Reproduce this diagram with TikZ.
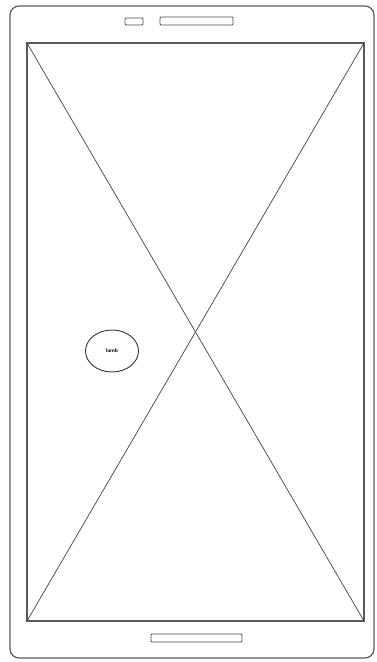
\documentclass[tikz,border=0pt]{standalone}
\usetikzlibrary{shapes.geometric}
\begin{document}
\begin{tikzpicture}[x=1pt,y=-1pt,
  frame/.style={draw=black!65,line width=1.2pt},
  thin/.style={draw=black!75,line width=0.7pt},
  bar/.style={draw=black!70,line width=0.9pt,rounded corners=1pt},
  bubble/.style={ellipse,draw=black!80,line width=0.9pt,minimum width=53pt,minimum height=42pt,inner sep=0pt,font=\sffamily\bfseries\fontsize{5.5}{6}\selectfont}]
\useasboundingbox (0,0) rectangle (377,662);
\draw[frame,rounded corners=9pt] (10,6) rectangle (374,658);
\coordinate (tl) at (27,43);
\coordinate (tr) at (364,43);
\coordinate (bl) at (27,621);
\coordinate (br) at (364,621);
\draw[frame,line width=1.5pt] (tl) rectangle (br);
\draw[thin] (tl) -- (br);
\draw[thin] (tr) -- (bl);
\draw[bar] (125,18) rectangle (143,25);
\draw[bar] (160,17) rectangle (233,25);
\draw[bar] (151,634) rectangle (242,642);
\node[bubble,fill=white] (b) at (112,351) {lamb};
\end{tikzpicture}
\end{document}
